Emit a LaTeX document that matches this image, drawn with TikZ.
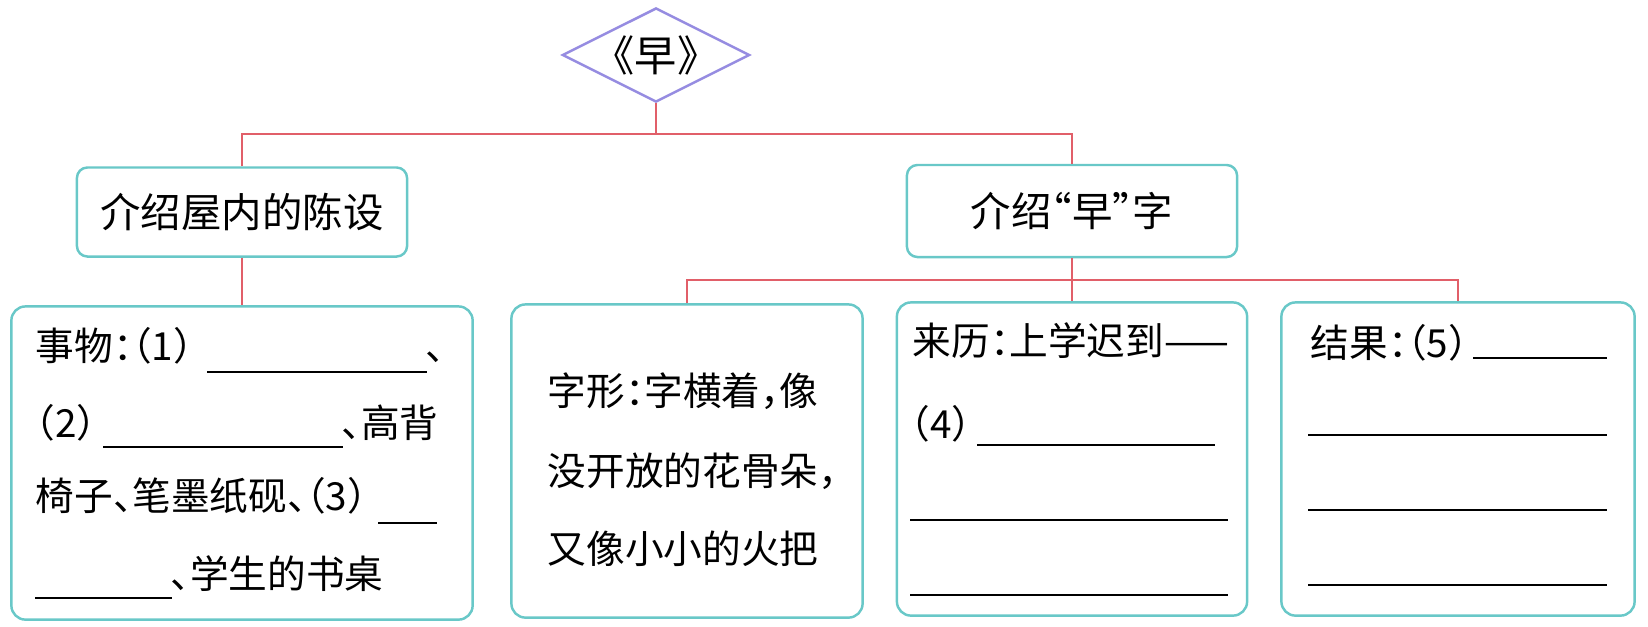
\documentclass[tikz,border=0pt]{standalone}
\usepackage{fontspec}
\usepackage{xcolor}
\usepackage{tikz}
\usetikzlibrary{shapes.geometric}
\newfontfamily\cjk[RawFeature={+halt}]{Noto Sans CJK SC}
\definecolor{boxteal}{RGB}{105,200,200}
\definecolor{linkred}{RGB}{225,95,105}
\definecolor{titlepurple}{RGB}{150,140,225}

\begin{document}
\begin{tikzpicture}[x=0.01cm, y=-0.01cm,
    titlediamond/.style={diamond, draw=titlepurple, line width=0.7pt, shape aspect=2,
      minimum width=1.87cm, minimum height=0.94cm, inner sep=0pt,
      font=\cjk\fontsize{12}{14}\selectfont},
    topbox/.style={draw=boxteal, line width=0.7pt, rounded corners=3pt,
      minimum width=3.3cm, inner sep=0pt, font=\cjk\fontsize{11.5}{14}\selectfont},
    infobox/.style={draw=boxteal, line width=0.7pt, rounded corners=4pt,
      minimum height=3.13cm, inner sep=0pt},
    txt/.style={anchor=base west, inner sep=0pt, font=\cjk\fontsize{11}{13}\selectfont},
    link/.style={draw=linkred, line width=0.7pt},
    blank/.style={line width=0.5pt}]
  \useasboundingbox (0,0) rectangle (1648,626);
  % Title
  \node[titlediamond] (title) at (656,55) {《早》};
  % Second level
  \node[topbox, minimum height=0.89cm] (room) at (242,212) {介绍屋内的陈设};
  \node[topbox, minimum height=0.92cm] (word) at (1072,211) {介绍“早”字};
  % Bottom boxes
  \node[infobox, minimum width=4.61cm] (things) at (242,463) {};
  \node[infobox, minimum width=3.51cm] (shape) at (687,461) {};
  \node[infobox, minimum width=3.50cm] (origin) at (1072,459) {};
  \node[infobox, minimum width=3.53cm] (result) at (1458,459) {};
  % Links
  \coordinate (fork1) at (656,134);
  \coordinate (fork2) at (1072,280);
  \draw[link] (title.south) -- (fork1);
  \draw[link] (room.north) |- (fork1) -| (word.north);
  \draw[link] (room.south) -- (things.north);
  \draw[link] (word.south) -- (origin.north);
  \draw[link] (shape.north) |- (fork2) -| (result.north);
  % Things in the room
  \node[txt] (t1) at (35,360) {事物：（1）};
  \draw[blank] (207,372) -- (427,372);
  \node[txt] (t1b) at (425,360) {、};
  \node[txt] (t2) at (35,437) {（2）};
  \draw[blank] (103,447) -- (343,447);
  \node[txt] (t2b) at (341,437) {、高背};
  \node[txt] (t3) at (35,510) {椅子、笔墨纸砚、（3）};
  \draw[blank] (378,523) -- (437,523);
  \draw[blank] (35,598) -- (172,598);
  \node[txt] (t4) at (170,588) {、学生的书桌};
  % Shape of the character
  \node[txt] (s1) at (547,405) {字形：字横着，像};
  \node[txt] (s2) at (547,485) {没开放的花骨朵，};
  \node[txt] (s3) at (547,563) {又像小小的火把};
  % Origin
  \node[txt] (o1) at (912,355) {来历：上学迟到——};
  \node[txt] (o2) at (910,438) {（4）};
  \draw[blank] (977,445) -- (1215,445);
  \foreach \y in {520,595} \draw[blank] (910,\y) -- (1228,\y);
  % Result
  \node[txt] (r1) at (1310,357) {结果：（5）};
  \draw[blank] (1473,358) -- (1607,358);
  \foreach \y in {435,510,585} \draw[blank] (1308,\y) -- (1607,\y);
\end{tikzpicture}
\end{document}
